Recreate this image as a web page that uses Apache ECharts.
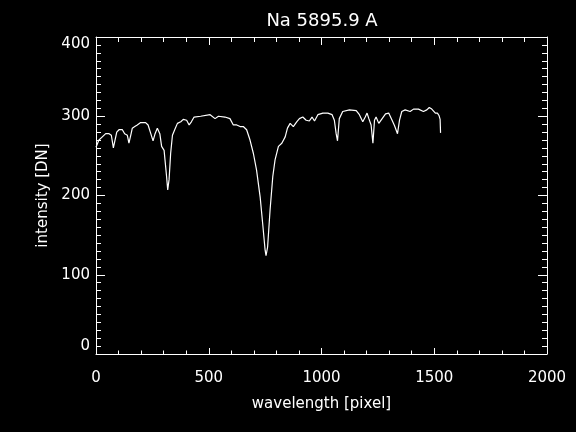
<!DOCTYPE html>
<html>
<head>
<meta charset="utf-8">
<script src="https://cdn.jsdelivr.net/npm/echarts@6/dist/echarts.min.js"></script>
<style>html,body{margin:0;padding:0;background:#000;}#c{width:576px;height:432px;}</style>
</head>
<body>
<div id="c"></div>
<script>
// wavelength [pixel]
var wavelength = [0,13,28,43,58,68,77,84,92,102,117,127,139,146,154,161,172,183,198,220,231,243,253,262,272,283,291,302,306,313,318,324,331,339,349,361,376,387,402,413,423,435,464,506,528,543,572,594,609,624,639,653,668,683,698,712,728,739,750,754,761,772,784,794,809,824,839,849,861,875,890,902,917,932,946,958,969,984,1006,1028,1047,1057,1065,1071,1079,1094,1124,1154,1168,1183,1194,1202,1210,1220,1228,1235,1242,1254,1269,1284,1298,1313,1324,1337,1346,1356,1371,1393,1408,1430,1452,1467,1478,1489,1505,1514,1521,1526,1528];
// intensity [DN]
var intensity = [261,270,274,278,278,276,260,262,280,283,283,278,276,266,276,285,287,289,292,292,289,278,269,278,285,278,262,257,245,224,207,220,253,276,283,291,293,296,295,289,293,299,300,302,297,300,299,297,289,289,287,287,283,270,253,232,198,165,131,124,135,182,224,245,262,266,274,285,291,287,293,297,299,295,294,299,294,302,304,304,302,295,278,269,297,306,308,307,302,293,299,304,297,289,266,295,299,291,297,303,304,295,288,278,295,306,308,306,309,309,306,308,311,309,304,304,301,296,279];
var xTicks = [0,500,1000,1500,2000];
var yTicks = [0,100,200,300,400];
var titleText = 'Na 5895.9 A';
var xName = 'wavelength [pixel]';
var yName = 'intensity [DN]';

var data = wavelength.map(function(x,i){return [x,intensity[i]];});
var font = 'DejaVu Sans';
var chart = echarts.init(document.getElementById('c'));
var lineStyle = {color:'#fff', width:1};
var plain = function(v){ return String(v); };
chart.setOption({
  backgroundColor:'#000',
  animation:false,
  title:{text:titleText, top:12, left:322, textAlign:'center', padding:0,
    textStyle:{color:'#fff', fontFamily:font, fontWeight:'normal', fontSize:18}},
  grid:{left:96, right:29, top:37, bottom:78, containLabel:false},
  xAxis:[{
    type:'value', min:0, max:2000, interval:500, position:'bottom',
    axisLine:{show:true, onZero:false, lineStyle:lineStyle},
    axisTick:{show:true, inside:true, length:6, lineStyle:lineStyle},
    minorTick:{show:true, splitNumber:5, length:3.5, lineStyle:lineStyle},
    splitLine:{show:false},
    axisLabel:{color:'#fff', fontFamily:font, fontSize:15, margin:17, customValues:xTicks, formatter:plain},
    name:xName, nameLocation:'middle', nameGap:43,
    nameTextStyle:{color:'#fff', fontFamily:font, fontSize:15}
  },{
    type:'value', min:0, max:2000, interval:500, position:'top',
    axisLine:{show:true, onZero:false, lineStyle:lineStyle},
    axisTick:{show:true, inside:true, length:8, lineStyle:lineStyle},
    minorTick:{show:true, splitNumber:5, length:5, lineStyle:lineStyle},
    splitLine:{show:false},
    axisLabel:{show:false}
  }],
  yAxis:[{
    type:'value', min:0, max:400, interval:100, position:'left',
    axisLine:{show:true, onZero:false, lineStyle:lineStyle},
    axisTick:{show:true, inside:true, length:9, lineStyle:lineStyle},
    minorTick:{show:true, splitNumber:10, length:5, lineStyle:lineStyle},
    splitLine:{show:false},
    axisLabel:{color:'#fff', fontFamily:font, fontSize:15, margin:6, customValues:yTicks, formatter:plain,
      verticalAlignMinLabel:'bottom', verticalAlignMaxLabel:'top'},
    name:yName, nameLocation:'middle', nameGap:44,
    nameTextStyle:{color:'#fff', fontFamily:font, fontSize:15}
  },{
    type:'value', min:0, max:400, interval:100, position:'right',
    axisLine:{show:true, onZero:false, lineStyle:lineStyle},
    axisTick:{show:true, inside:true, length:9, lineStyle:lineStyle},
    minorTick:{show:true, splitNumber:10, length:5, lineStyle:lineStyle},
    splitLine:{show:false},
    axisLabel:{show:false}
  }],
  series:[{
    type:'line', data:data, xAxisIndex:0, yAxisIndex:0,
    showSymbol:false, symbol:'none', smooth:false,
    lineStyle:{color:'#fff', width:1.2}
  }]
});
</script>
</body>
</html>
